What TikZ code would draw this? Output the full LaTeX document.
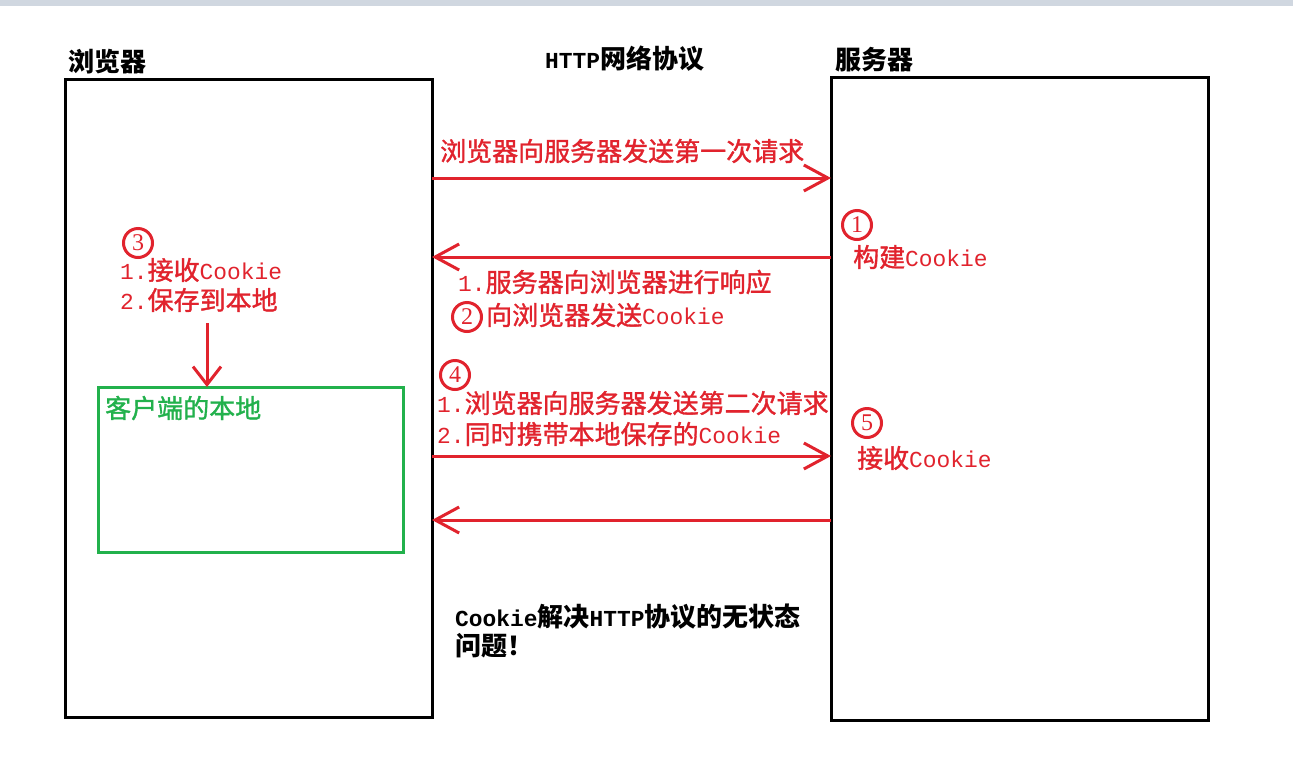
\documentclass[tikz,border=0pt]{standalone}
\usepackage{fontspec}
\usetikzlibrary{arrows.meta, positioning}
\newfontfamily\cjk{Noto Sans CJK SC}
\newfontfamily\cjkred[FakeBold=1.3]{Noto Sans CJK SC}
\newfontfamily\enfont[Scale=0.88]{Liberation Mono}
\newfontfamily\numfont{Liberation Serif}
\newcommand{\en}[1]{{\enfont #1}}
\definecolor{paintred}{RGB}{225,35,45}
\definecolor{paintgreen}{RGB}{34,177,76}
\definecolor{topbar}{RGB}{208,215,224}

\begin{document}
\begin{tikzpicture}[
                    x=1pt, y=-1pt,
                    box/.style={rectangle, draw, line width=3pt, outer sep=0pt, inner sep=0pt},
                    title/.style={anchor=west, inner sep=0pt, font=\cjk\bfseries\fontsize{26}{30}\selectfont},
                    note/.style={anchor=west, inner sep=0pt, text=paintred, font=\cjkred\fontsize{26}{30}\selectfont},
                    num/.style={circle, draw=paintred, line width=3pt, minimum size=29pt, inner sep=0pt, text=paintred, font=\numfont\fontsize{24}{24}\selectfont},
                    line/.style={draw=paintred, line width=3pt, -{Straight Barb[length=24pt, width=26pt]}}
                ]
                    \useasboundingbox (0,0) rectangle (1293,769);
                    \fill[white] (0,0) rectangle (1293,769);
                    \fill[topbar] (0,0) rectangle (1293,6);

                    % Browser and server
                    \node [box, minimum width=367pt, minimum height=638pt] (browser) at (248.5,398) {};
                    \node [box, minimum width=377pt, minimum height=643pt] (server) at (1019.5,398.5) {};
                    \node [box, draw=paintgreen, minimum width=305pt, minimum height=165pt] (local) at (250.5,469.5) {};

                    \node [title] (browsertitle) at (68,62) {浏览器};
                    \node [title] (httptitle) at (545,59) {\en{HTTP}网络协议};
                    \node [title] (servertitle) at (835,60) {服务器};
                    \node [note, text=paintgreen] (localtitle) at (105,408) {客户端的本地};

                    % Request and response rows
                    \coordinate (r1) at (0,178);
                    \coordinate (r2) at (0,257);
                    \coordinate (r4) at (0,456);
                    \coordinate (r5) at (0,520);

                    \path [line] (browser.east |- r1) -- (server.west |- r1);
                    \path [line] (server.west |- r2) -- (browser.east |- r2);
                    \path [line] (browser.east |- r4) -- (server.west |- r4);
                    \path [line] (server.west |- r5) -- (browser.east |- r5);

                    \node [note] (req1) at (440,151) {浏览器向服务器发送第一次请求};

                    \node [num] (n1) at (857,225) {1};
                    \node [note] (build) at (853,257) {构建\en{Cookie}};

                    \node [note] (resp1) at (458,282) {\en{1.}服务器向浏览器进行响应};
                    \node [num] (n2) at (467,317) {2};
                    \node [note] (resp2) at (486,315) {向浏览器发送\en{Cookie}};

                    \node [num] (n3) at (138,243) {3};
                    \node [note] (recv) at (120,270) {\en{1.}接收\en{Cookie}};
                    \node [note] (save) at (120,300) {\en{2.}保存到本地};

                    % Store locally
                    \coordinate (d1) at (207,323);
                    \path [line, -{Straight Barb[length=18pt, width=28pt]}] (d1) -- (d1 |- local.north);

                    \node [num] (n4) at (455,375) {4};
                    \node [note] (req2) at (437,403) {\en{1.}浏览器向服务器发送第二次请求};
                    \node [note] (carry) at (437,434) {\en{2.}同时携带本地保存的\en{Cookie}};

                    \node [num] (n5) at (867,423) {5};
                    \node [note] (recv2) at (857,458) {接收\en{Cookie}};

                    \node [title] (sum1) at (455,617) {\en{Cookie}解决\en{HTTP}协议的无状态};
                    \node [title] (sum2) at (455,646) {问题！};
                \end{tikzpicture}
\end{document}
